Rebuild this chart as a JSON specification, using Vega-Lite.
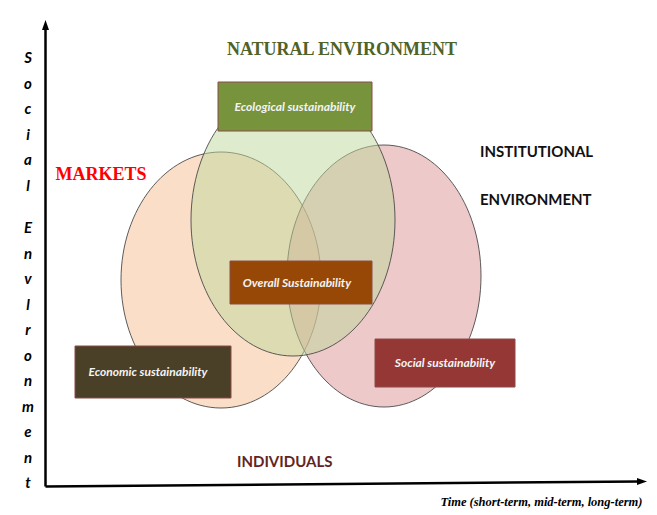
{
  "$schema": "https://vega.github.io/schema/vega-lite/v6.json",
  "width": 657,
  "height": 515,
  "padding": 0,
  "autosize": {"type": "fit", "contains": "padding"},
  "background": "white",
  "config": {"view": {"stroke": null}},
  "datasets": {
    "axes": [
      {"x": 45.5, "y": 486.5, "x2": 45.5, "y2": 27},
      {"x": 45.5, "y": 486.5, "x2": 640, "y2": 481.5}
    ],
    "heads": [
      {"dir": "up", "x": 45.5, "y": 25},
      {"dir": "right", "x": 642, "y": 481.5}
    ],
    "sets": [
      {"set": "Economic", "x": 221, "y": 280},
      {"set": "Social", "x": 384, "y": 276},
      {"set": "Ecological", "x": 293, "y": 220}
    ],
    "boxes": [
      {"box": "Ecological sustainability", "x": 218, "x2": 372, "y": 82, "y2": 131, "tx": 295, "ty": 106.5},
      {"box": "Overall Sustainability", "x": 230, "x2": 372, "y": 261, "y2": 304, "tx": 297, "ty": 283},
      {"box": "Economic sustainability", "x": 75, "x2": 231, "y": 346, "y2": 398, "tx": 148, "ty": 372},
      {"box": "Social sustainability", "x": 375, "x2": 515, "y": 339, "y2": 387, "tx": 445, "ty": 363}
    ],
    "serifLabels": [
      {"t": "NATURAL ENVIRONMENT", "x": 342, "y": 50},
      {"t": "MARKETS", "x": 101, "y": 175}
    ],
    "sansLabels": [
      {"t": "INSTITUTIONAL", "x": 480, "y": 152},
      {"t": "ENVIRONMENT", "x": 480, "y": 200},
      {"t": "INDIVIDUALS", "x": 237, "y": 462}
    ],
    "timeLabel": [
      {"t": "Time (short-term, mid-term, long-term)", "x": 541.5, "y": 502}
    ],
    "vert": [
      {"t": "S\no\nc\ni\na\nl", "x": 28, "y": 63},
      {"t": "E\nn\nv\nl\nr\no\nn\nm\ne\nn\nt", "x": 28, "y": 233}
    ]
  },
  "encoding": {
    "x": {"field": "x", "type": "quantitative", "scale": {"domain": [0, 657], "nice": false, "zero": false}, "axis": null},
    "y": {"field": "y", "type": "quantitative", "scale": {"domain": [0, 515], "reverse": true, "nice": false, "zero": false}, "axis": null}
  },
  "layer": [
    {
      "data": {"name": "axes"},
      "mark": {"type": "rule", "color": "black", "strokeWidth": 2.5},
      "encoding": {
        "x2": {"field": "x2"},
        "y2": {"field": "y2"}
      }
    },
    {
      "data": {"name": "heads"},
      "mark": {"type": "point", "filled": true, "opacity": 1, "color": "black"},
      "encoding": {
        "shape": {"field": "dir", "type": "nominal", "scale": {"domain": ["up", "right"], "range": ["M0,-1L0.7,1L-0.7,1Z", "M1,0L-1,0.7L-1,-0.7Z"]}, "legend": null},
        "size": {"value": 100}
      }
    },
    {
      "data": {"name": "sets"},
      "mark": {"type": "point", "filled": true, "opacity": 1, "fillOpacity": 0.5, "stroke": "#4a4a4a", "strokeWidth": 1, "strokeOpacity": 0.9},
      "encoding": {
        "shape": {"field": "set", "type": "nominal", "scale": {"domain": ["Economic", "Social", "Ecological"], "range": ["M-1,0A1,1.28,0,1,0,1,0A1,1.28,0,1,0,-1,0Z", "M-0.97,0A0.97,1.31,0,1,0,0.97,0A0.97,1.31,0,1,0,-0.97,0Z", "M-1.02,0A1.02,1.36,0,1,0,1.02,0A1.02,1.36,0,1,0,-1.02,0Z"]}, "legend": null},
        "color": {"field": "set", "type": "nominal", "scale": {"domain": ["Economic", "Social", "Ecological"], "range": ["#F7BD91", "#DB9393", "#BFD79B"]}, "legend": null},
        "size": {"value": 40000}
      }
    },
    {
      "data": {"name": "boxes"},
      "mark": {"type": "rect", "stroke": "#8C4B4B", "strokeWidth": 1},
      "encoding": {
        "x2": {"field": "x2"},
        "y2": {"field": "y2"},
        "color": {"field": "box", "type": "nominal", "scale": {"domain": ["Ecological sustainability", "Overall Sustainability", "Economic sustainability", "Social sustainability"], "range": ["#77933C", "#974806", "#4A3F27", "#953735"]}, "legend": null}
      }
    },
    {
      "data": {"name": "boxes"},
      "mark": {"type": "text", "font": "Lato", "fontSize": 12, "fontStyle": "italic", "fontWeight": "bold", "color": "#F4F4F4", "align": "center", "baseline": "middle"},
      "encoding": {
        "x": {"field": "tx", "type": "quantitative"},
        "y": {"field": "ty", "type": "quantitative"},
        "text": {"field": "box"}
      }
    },
    {
      "data": {"name": "serifLabels"},
      "mark": {"type": "text", "font": "Liberation Serif", "fontSize": 18, "fontWeight": "bold", "align": "center", "baseline": "middle"},
      "encoding": {
        "text": {"field": "t"},
        "color": {"field": "t", "type": "nominal", "scale": {"domain": ["NATURAL ENVIRONMENT", "MARKETS"], "range": ["#4F6228", "#FF0000"]}, "legend": null}
      }
    },
    {
      "data": {"name": "sansLabels"},
      "mark": {"type": "text", "font": "Lato", "fontSize": 15, "fontWeight": "bold", "align": "left", "baseline": "middle"},
      "encoding": {
        "text": {"field": "t"},
        "color": {"field": "t", "type": "nominal", "scale": {"domain": ["INSTITUTIONAL", "ENVIRONMENT", "INDIVIDUALS"], "range": ["#111111", "#111111", "#632523"]}, "legend": null}
      }
    },
    {
      "data": {"name": "timeLabel"},
      "mark": {"type": "text", "font": "Liberation Serif", "fontSize": 12.5, "fontWeight": "bold", "fontStyle": "italic", "color": "black", "align": "center", "baseline": "middle"},
      "encoding": {
        "text": {"field": "t"}
      }
    },
    {
      "data": {"name": "vert"},
      "mark": {"type": "text", "font": "Lato", "fontSize": 15, "fontWeight": "bold", "fontStyle": "italic", "color": "black", "align": "center", "baseline": "alphabetic", "lineBreak": "\n", "lineHeight": 25.5},
      "encoding": {
        "text": {"field": "t"}
      }
    }
  ],
  "resolve": {"scale": {"color": "independent", "shape": "independent"}}
}
